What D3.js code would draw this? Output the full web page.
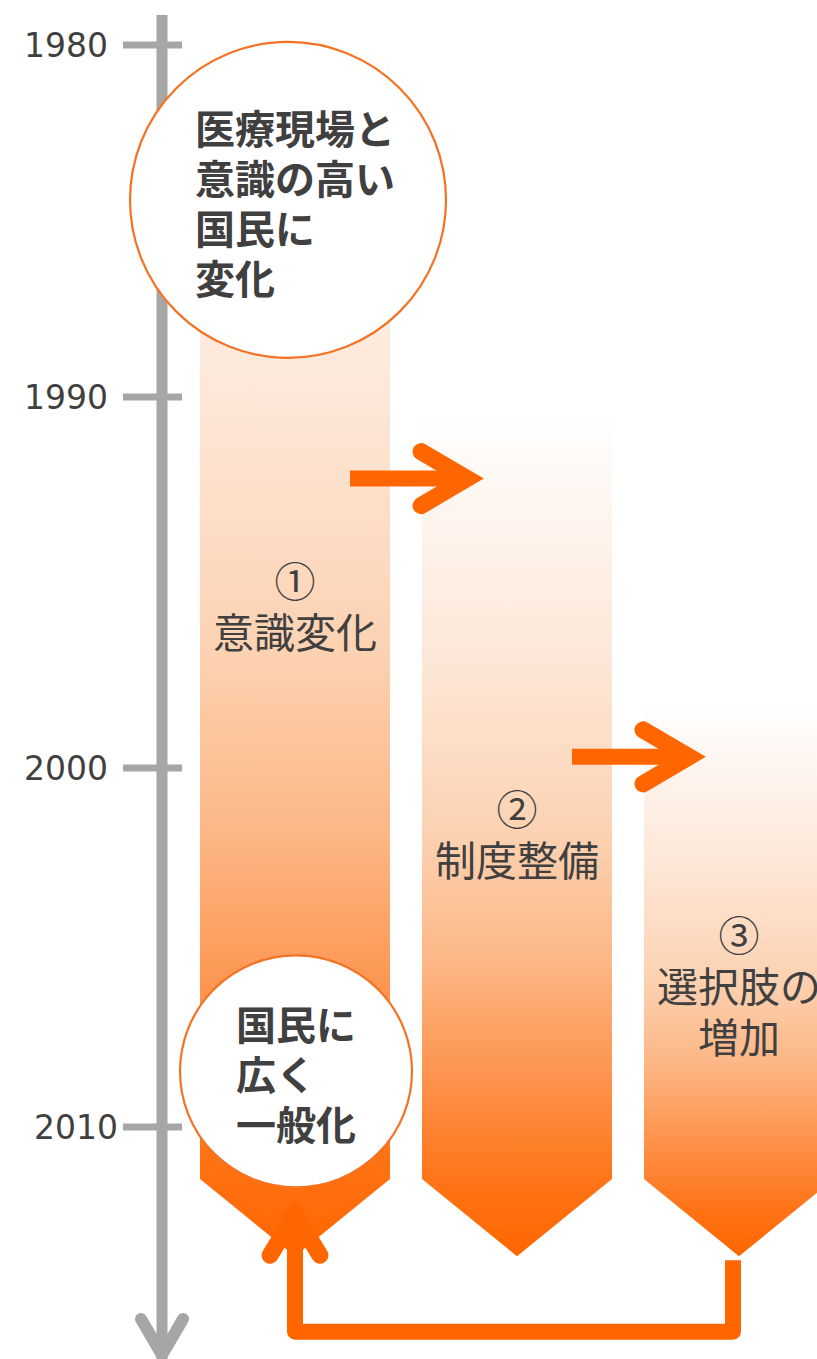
<!DOCTYPE html>
<html>
<head>
<meta charset="utf-8">
<script src="https://d3js.org/d3.v7.min.js"></script>
<style>
  body { margin: 0; background: #fff; }
  svg { display: block; }
</style>
</head>
<body>
<svg width="817" height="1359"></svg>
<script>
// timeline ticks
var years = [1980, 1990, 2000, 2010];

// the three stages (columns)
var stepNumbers = ["①", "②", "③"];
var stepLabels = [["意識変化"], ["制度整備"], ["選択肢の", "増加"]];
var stepStart = [1980, 1990.4, 1998.2];
var stepLabelYear = [1994.9, 2001.1, 2004.6];
var stepSideEnd = 2011.45;
var stepTip = 2013.6;

// arrows from one stage to the next
var arrowYears = [1992.2, 1999.7];

// circles on the first column
var circleYears = [1984.4, 2008.45];
var circleLines = [["医療現場と", "意識の高い", "国民に", "変化"], ["国民に", "広く", "一般化"]];

var returnYear = 2015.7;

var orange = "#ff6600";
var gray = "#a6a6a6";
var textColor = "#404040";
var jp = "'Noto Sans CJK JP', sans-serif";

var svg = d3.select("svg");

var y = d3.scaleLinear()
    .domain(years)
    .range([45, 397, 768, 1127]);

var x = d3.scaleBand()
    .domain(d3.range(stepNumbers.length))
    .range([200, 834])
    .paddingInner(0.144)
    .paddingOuter(0);

var bw = x.bandwidth();

var gradStops = [
    [0, "#ffffff"], [0.3, "#fde6d6"], [0.5, "#fcd2b2"], [0.65, "#fcb786"],
    [0.8, "#fd9048"], [0.92, "#ff7214"], [1, "#ff6600"]
];

var defs = svg.append("defs");
var grad = defs.append("linearGradient")
    .attr("id", "colGrad")
    .attr("x1", 0).attr("y1", 0)
    .attr("x2", 0).attr("y2", 1);
grad.selectAll("stop")
    .data(gradStops)
    .enter().append("stop")
    .attr("offset", function (d) { return d[0]; })
    .attr("stop-color", function (d) { return d[1]; });

// ---- axis ----
var axis = svg.append("g").attr("class", "axis");

axis.append("line")
    .attr("x1", 162).attr("x2", 162)
    .attr("y1", 15).attr("y2", 1362)
    .attr("stroke", gray)
    .attr("stroke-width", 11);

axis.append("path")
    .attr("d", "M141,1319L162,1355L183,1319")
    .attr("fill", "none")
    .attr("stroke", gray)
    .attr("stroke-width", 12)
    .attr("stroke-linecap", "round")
    .attr("stroke-linejoin", "round");

axis.selectAll(".tick")
    .data(years)
    .enter().append("line")
    .attr("class", "tick")
    .attr("x1", 123).attr("x2", 182)
    .attr("y1", function (d) { return y(d); })
    .attr("y2", function (d) { return y(d); })
    .attr("stroke", gray)
    .attr("stroke-width", 7);

axis.selectAll(".label")
    .data(years)
    .enter().append("text")
    .attr("class", "label")
    .attr("x", function (d) { return d === 2010 ? 118 : 108; })
    .attr("y", function (d) { return y(d); })
    .attr("dy", "0.36em")
    .attr("text-anchor", "end")
    .style("font-family", "'DejaVu Sans', sans-serif")
    .style("font-size", "33px")
    .attr("fill", textColor)
    .text(function (d) { return d; });

// ---- columns ----
var cols = svg.append("g").attr("class", "columns");

cols.selectAll("path")
    .data(stepNumbers)
    .enter().append("path")
    .attr("d", function (d, i) {
        var x0 = x(i), x1 = x(i) + bw, xm = x(i) + bw / 2;
        return "M" + x0 + "," + y(stepStart[i]) +
            "L" + x1 + "," + y(stepStart[i]) +
            "L" + x1 + "," + y(stepSideEnd) +
            "L" + xm + "," + y(stepTip) +
            "L" + x0 + "," + y(stepSideEnd) + "Z";
    })
    .attr("fill", "url(#colGrad)");

var labels = svg.append("g").attr("class", "step-labels");

stepNumbers.forEach(function (num, i) {
    var cx = x(i) + bw / 2;
    var lines = [num].concat(stepLabels[i]);
    labels.selectAll(".l" + i)
        .data(lines)
        .enter().append("text")
        .attr("x", cx)
        .attr("y", function (d, j) { return y(stepLabelYear[i]) + j * 51; })
        .attr("dominant-baseline", "central")
        .attr("text-anchor", "middle")
        .style("font-family", jp)
        .style("font-size", "41px")
        .attr("fill", textColor)
        .text(function (d) { return d; });
});

// ---- arrows between stages ----
var arrows = svg.append("g").attr("class", "arrows");

arrowYears.forEach(function (yr, i) {
    var ay = y(yr);
    var xs = x(i) + bw - 40;
    var xv = xs + 117;       // vertex of the head
    arrows.append("line")
        .attr("x1", xs).attr("x2", xv - 6)
        .attr("y1", ay).attr("y2", ay)
        .attr("stroke", orange)
        .attr("stroke-width", 16);
    arrows.append("path")
        .attr("d", "M" + (xv - 46) + "," + (ay - 27) + "L" + xv + "," + ay + "L" + (xv - 46) + "," + (ay + 27))
        .attr("fill", "none")
        .attr("stroke", orange)
        .attr("stroke-width", 17)
        .attr("stroke-linecap", "round")
        .attr("stroke-linejoin", "miter");
});

// ---- return arrow ----
var c1 = x(0) + bw / 2;
var c3 = x(2) + bw / 2 - 6;
var ry = y(returnYear);
var tipY = y(circleYears[1]) + 143;

svg.append("path")
    .attr("d", "M" + c3 + "," + (y(stepTip) + 4) + "L" + c3 + "," + ry + "L" + c1 + "," + ry + "L" + c1 + "," + (tipY + 6))
    .attr("fill", "none")
    .attr("stroke", orange)
    .attr("stroke-width", 16)
    .attr("stroke-linejoin", "round");

svg.append("path")
    .attr("d", "M" + (c1 - 25) + "," + (tipY + 41) + "L" + c1 + "," + tipY + "L" + (c1 + 25) + "," + (tipY + 41))
    .attr("fill", "none")
    .attr("stroke", orange)
    .attr("stroke-width", 17)
    .attr("stroke-linecap", "round")
    .attr("stroke-linejoin", "miter");

// ---- circles ----
var circleR = [158, 116];
var circleDx = [-7, 1];
var circles = svg.append("g").attr("class", "circles");

circleYears.forEach(function (yr, i) {
    var cx = c1 + circleDx[i];
    var cy = y(yr);
    circles.append("circle")
        .attr("cx", cx)
        .attr("cy", cy)
        .attr("r", circleR[i])
        .attr("fill", "#fff")
        .attr("stroke", "#f47221")
        .attr("stroke-width", 2.2);

    var lines = circleLines[i];
    var maxLen = d3.max(lines, function (d) { return d.length; });
    var fs = 40, lh = 50;
    var left = cx - maxLen * fs / 2 + (i === 0 ? 7 : 0);
    circles.selectAll(".c" + i)
        .data(lines)
        .enter().append("text")
        .attr("x", left)
        .attr("y", function (d, j) { return cy + 2 + (j - (lines.length - 1) / 2) * lh; })
        .attr("dominant-baseline", "central")
        .style("font-family", jp)
        .style("font-weight", 700)
        .style("font-size", fs + "px")
        .attr("fill", textColor)
        .text(function (d) { return d; });
});
</script>
</body>
</html>
